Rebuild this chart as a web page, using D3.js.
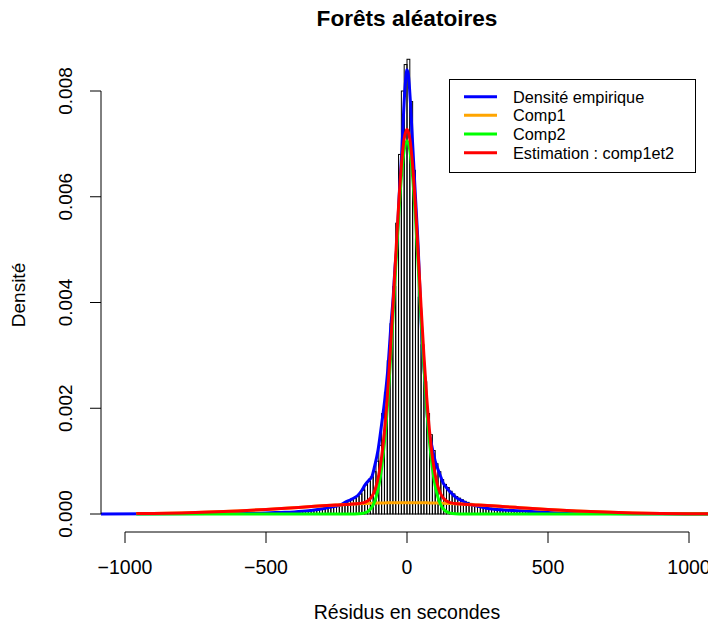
<!DOCTYPE html>
<html>
<head>
<meta charset="utf-8">
<script src="https://cdn.jsdelivr.net/npm/d3@7"></script>
<style>
  html, body { margin: 0; padding: 0; background: #ffffff; }
  svg { display: block; font-family: "Liberation Sans", Arial, Helvetica, sans-serif; }
</style>
</head>
<body>
<svg id="chart" width="708" height="624"></svg>
<script>
// ---------------- DATA ----------------
const title = "Forêts aléatoires";
const xLabel = "Résidus en secondes";
const yLabel = "Densité";
const xTicks = [-1000, -500, 0, 500, 1000];
const yTicks = [0, 0.002, 0.004, 0.006, 0.008];
const yTickLabels = ["0.000", "0.002", "0.004", "0.006", "0.008"];
const legendLabels = ["Densité empirique", "Comp1", "Comp2", "Estimation : comp1et2"];
const legendColors = ["#0000ff", "#ffa500", "#00ff00", "#ff0000"];

// histogram: left edges of bins (width 10) and densities
const histStart = -500;
const histWidth = 10;
const histValues = [
  0.00002, 0.00002, 0.00002, 0.00003, 0.00003, 0.00003, 0.00004, 0.00004, 0.00004, 0.00004,
  0.00004, 0.00005, 0.00005, 0.00005, 0.00006, 0.00006, 0.00007, 0.00008, 0.00009, 0.00010,
  0.00010, 0.00011, 0.00012, 0.00013, 0.00014, 0.00016, 0.00017, 0.00019, 0.00022, 0.00025,
  0.00027, 0.00030, 0.00034, 0.00038, 0.00045, 0.00055, 0.00062, 0.00070, 0.00080, 0.00100,
  0.00130, 0.00190, 0.00230, 0.00290, 0.00360, 0.00430, 0.00550, 0.00680, 0.00800, 0.00850,
  0.00860, 0.00780, 0.00650, 0.00520, 0.00410, 0.00320, 0.00250, 0.00190, 0.00150, 0.00120,
  0.00095, 0.00080, 0.00065, 0.00056, 0.00050, 0.00043, 0.00038, 0.00033, 0.00030, 0.00027,
  0.00024, 0.00022, 0.00020, 0.00018, 0.00016, 0.00015, 0.00014, 0.00013, 0.00012, 0.00011,
  0.00010, 0.00010, 0.00009, 0.00009, 0.00008, 0.00008, 0.00007, 0.00007, 0.00006, 0.00006,
  0.00006, 0.00005, 0.00005, 0.00005, 0.00004, 0.00004, 0.00004, 0.00003, 0.00003, 0.00003
];

// empirical density (blue)
const empX = [-1087, -900, -700, -600, -500, -450, -400, -350, -300, -260, -238, -220, -200, -185, -173,
  -160, -150, -143, -135, -125, -115, -103, -90, -78, -67, -58, -49, -42, -37, -28, -18, -12, -5,
  0, 5, 12, 20, 30, 40, 46, 52, 58, 64, 70, 75, 84, 93, 100, 110, 120, 128, 137, 146, 160, 177,
  195, 212, 240, 283, 330, 400, 500, 600, 700, 800, 900, 1000, 1087];
const empY = [0.000001, 0.000003, 0.000008, 0.000012, 0.00002, 0.00003, 0.00004, 0.00006, 0.0001, 0.00014, 0.00017, 0.00022, 0.00027, 0.00031, 0.00036,
  0.00045, 0.00054, 0.00059, 0.00064, 0.0007, 0.0009, 0.0012, 0.0017, 0.0022, 0.0028, 0.0035, 0.0041, 0.0047, 0.005, 0.006, 0.0069, 0.0076, 0.0082,
  0.0084, 0.0083, 0.0078, 0.0070, 0.0060, 0.0050, 0.0042, 0.0034, 0.0029, 0.0025, 0.0020, 0.00166, 0.0014, 0.00116, 0.0010, 0.00084, 0.0007, 0.00059, 0.00052, 0.00046, 0.00038, 0.0003,
  0.00025, 0.0002, 0.00016, 0.00011, 0.00008, 0.00006, 0.00003, 0.000015, 0.00001, 0.000006, 0.000004, 0.000002, 0.000001];

// mixture components
const compX = [-960, -900, -800, -700, -600, -500, -400, -350, -300, -250, -200, -170, -150, -140, -130, -120, -110, -100,
  -90, -80, -70, -60, -50, -40, -30, -20, -10, 0, 10, 20, 30, 40, 50, 60, 70, 80, 90,
  100, 110, 120, 130, 140, 150, 170, 200, 250, 300, 350, 400, 500, 600, 700, 800, 900, 1000, 1100];
const comp1 = [0.0000074, 0.0000112, 0.0000208, 0.0000359, 0.0000577, 0.0000863, 0.000120, 0.000137, 0.000155, 0.000171, 0.000186, 0.000194, 0.000198, 0.000200, 0.000202, 0.000204, 0.000206, 0.000207,
  0.000209, 0.000210, 0.000211, 0.000212, 0.000213, 0.000214, 0.000214, 0.000215, 0.000215, 0.000215, 0.000215, 0.000215, 0.000214, 0.000214, 0.000213, 0.000212, 0.000211, 0.000210, 0.000209,
  0.000207, 0.000206, 0.000204, 0.000202, 0.000200, 0.000198, 0.000194, 0.000186, 0.000171, 0.000155, 0.000137, 0.000120, 0.0000863, 0.0000577, 0.0000359, 0.0000208, 0.0000112, 0.0000056, 0.0000026];
const comp2 = [0, 0, 0, 0, 0, 0, 0, 0, 0, 0, 0, 0.000004, 0.0000211, 0.0000447, 0.0000898, 0.000171, 0.00031, 0.000534,
  0.000871, 0.00135, 0.00199, 0.00279, 0.0037, 0.00467, 0.0056, 0.00637, 0.00688, 0.00706, 0.00688, 0.00637, 0.0056, 0.00467, 0.0037, 0.00279, 0.00199, 0.00135, 0.000871,
  0.000534, 0.00031, 0.000171, 0.0000898, 0.0000447, 0.0000211, 0.000004, 0, 0, 0, 0, 0, 0, 0, 0, 0, 0, 0, 0];
const estim = [0.0000074, 0.0000112, 0.0000208, 0.0000359, 0.0000577, 0.0000863, 0.000120, 0.000137, 0.000155, 0.000171, 0.000186, 0.000198, 0.000219, 0.000245, 0.000292, 0.000375, 0.000516, 0.000741,
  0.00108, 0.00156, 0.002201, 0.003002, 0.003913, 0.004884, 0.005814, 0.006585, 0.007095, 0.007275, 0.007095, 0.006585, 0.005814, 0.004884, 0.003913, 0.003002, 0.002201, 0.00156, 0.00108,
  0.000741, 0.000516, 0.000375, 0.000292, 0.000245, 0.000219, 0.000198, 0.000186, 0.000171, 0.000155, 0.000137, 0.000120, 0.0000863, 0.0000577, 0.0000359, 0.0000208, 0.0000112, 0.0000056, 0.0000026];

// ---------------- DRAW ----------------
const svg = d3.select("#chart");
svg.append("rect").attr("width", 708).attr("height", 624).attr("fill", "#fff");

const x = d3.scaleLinear().domain([-1000, 1000]).range([125, 689]);
const y = d3.scaleLinear().domain([0, 0.008]).range([514, 91]);

const plotLeft = 101, plotRight = 720, plotTop = 44, plotBottom = 532;

svg.append("clipPath").attr("id", "clip")
  .append("rect").attr("x", plotLeft).attr("y", plotTop)
  .attr("width", plotRight - plotLeft).attr("height", plotBottom - plotTop);

const plot = svg.append("g").attr("clip-path", "url(#clip)");

// histogram
const bins = histValues.map((v, i) => ({ x0: histStart + i * histWidth, x1: histStart + (i + 1) * histWidth, v }));
plot.append("g").selectAll("rect").data(bins).join("rect")
  .attr("x", d => x(d.x0))
  .attr("y", d => y(d.v))
  .attr("width", d => x(d.x1) - x(d.x0))
  .attr("height", d => y(0) - y(d.v))
  .attr("fill", "none")
  .attr("stroke", "#000")
  .attr("stroke-width", 1);

const line = (xs, ys) => d3.line()
  .x((d, i) => x(xs[i]))
  .y((d, i) => y(ys[i]))
  .curve(d3.curveMonotoneX)(ys);

const curves = [
  { xs: empX, ys: empY, color: legendColors[0] },
  { xs: compX, ys: comp1, color: legendColors[1] },
  { xs: compX, ys: comp2, color: legendColors[2] },
  { xs: compX, ys: estim, color: legendColors[3] }
];
curves.forEach(c => {
  plot.append("path")
    .attr("d", line(c.xs, c.ys))
    .attr("fill", "none")
    .attr("stroke", c.color)
    .attr("stroke-width", 3)
    .attr("stroke-linejoin", "round");
});

// x axis (R style)
const axisColor = "#000";
const gx = svg.append("g");
gx.append("line")
  .attr("x1", x(xTicks[0])).attr("x2", x(xTicks[xTicks.length - 1]))
  .attr("y1", 532).attr("y2", 532).attr("stroke", axisColor).attr("stroke-width", 1);
gx.selectAll("line.tick").data(xTicks).join("line").attr("class", "tick")
  .attr("x1", d => x(d)).attr("x2", d => x(d))
  .attr("y1", 532).attr("y2", 543).attr("stroke", axisColor).attr("stroke-width", 1);
gx.selectAll("text").data(xTicks).join("text")
  .attr("x", d => x(d)).attr("y", 574)
  .attr("text-anchor", "middle")
  .attr("font-size", 19.5)
  .attr("fill", "#000")
  .text(d => d < 0 ? "\u2212" + Math.abs(d) : String(d));

// y axis
const gy = svg.append("g");
gy.append("line")
  .attr("x1", plotLeft).attr("x2", plotLeft)
  .attr("y1", y(yTicks[0])).attr("y2", y(yTicks[yTicks.length - 1]))
  .attr("stroke", axisColor).attr("stroke-width", 1);
gy.selectAll("line.tick").data(yTicks).join("line").attr("class", "tick")
  .attr("x1", plotLeft - 11).attr("x2", plotLeft)
  .attr("y1", d => y(d)).attr("y2", d => y(d))
  .attr("stroke", axisColor).attr("stroke-width", 1);
gy.selectAll("text").data(yTicks).join("text")
  .attr("transform", d => `translate(72,${y(d)}) rotate(-90)`)
  .attr("text-anchor", "middle")
  .attr("font-size", 19)
  .attr("fill", "#000")
  .text((d, i) => yTickLabels[i]);

// titles
svg.append("text")
  .attr("x", 407).attr("y", 26)
  .attr("text-anchor", "middle")
  .attr("font-size", 22.6)
  .attr("font-weight", "bold")
  .attr("fill", "#000")
  .text(title);
svg.append("text")
  .attr("x", 407).attr("y", 619)
  .attr("text-anchor", "middle")
  .attr("font-size", 19.5)
  .attr("fill", "#000")
  .text(xLabel);
svg.append("text")
  .attr("transform", "translate(25,295) rotate(-90)")
  .attr("text-anchor", "middle")
  .attr("font-size", 19)
  .attr("fill", "#000")
  .text(yLabel);

// legend
const lg = svg.append("g");
lg.append("rect")
  .attr("x", 449.5).attr("y", 79.5).attr("width", 246).attr("height", 93)
  .attr("fill", "#fff").attr("stroke", "#000").attr("stroke-width", 1);
const rowY = [96.7, 115.3, 134, 152.7];
legendLabels.forEach((lab, i) => {
  lg.append("line")
    .attr("x1", 464).attr("x2", 497)
    .attr("y1", rowY[i]).attr("y2", rowY[i])
    .attr("stroke", legendColors[i]).attr("stroke-width", 3);
  lg.append("text")
    .attr("x", 513).attr("y", rowY[i] + 5.8)
    .attr("font-size", 16.3)
    .attr("fill", "#000")
    .text(lab);
});
</script>
</body>
</html>
